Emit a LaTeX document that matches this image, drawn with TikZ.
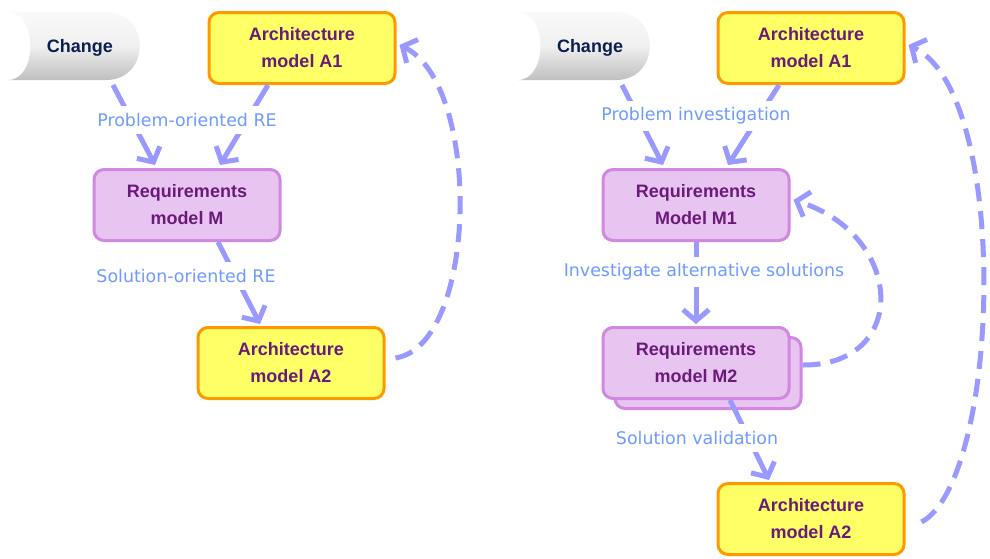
\documentclass[tikz,border=0pt]{standalone}
\usepackage{fontspec}
\setmainfont{Liberation Sans}
\newfontfamily\labelfont{DejaVu Sans}
\usetikzlibrary{arrows.meta,shadings}
\definecolor{archfill}{HTML}{FFFF66}
\definecolor{archline}{HTML}{FF9900}
\definecolor{reqfill}{HTML}{E8C4F0}
\definecolor{reqline}{HTML}{D088E0}
\definecolor{boxtext}{HTML}{6A1B7A}
\definecolor{labeltext}{HTML}{6F9BFF}
\definecolor{flowc}{HTML}{9999FF}
\definecolor{changetext}{HTML}{0B1E50}
\tikzset{
  box/.style={rounded corners=10pt, line width=3pt, minimum width=186pt, minimum height=71pt,
    align=center, text=boxtext, font=\fontsize{18}{27}\selectfont\bfseries, inner sep=0pt},
  archbox/.style={box, fill=archfill, draw=archline},
  reqbox/.style={box, fill=reqfill, draw=reqline},
  steplabel/.style={fill=white, text=labeltext, font=\labelfont\fontsize{17.4}{20}\selectfont,
    inner xsep=2pt, inner ysep=7pt},
  flow/.style={draw=flowc, line width=5pt, -{Straight Barb[length=11pt,width=26pt,line width=5pt]}},
  loopback/.style={flow, dash pattern=on 18pt off 10pt},
  changetag/.style={text=changetext, font=\fontsize{18}{22}\selectfont\bfseries}
}
% grey cylinder lying on its side, open white face on the left
\newcommand{\changeshape}[1]{%
  \shade[top color=white!96!gray, bottom color=gray!50, middle color=gray!12]
    (#1+8,12) -- (#1+106,12) .. controls (#1+151,12) and (#1+151,80) .. (#1+106,80)
    -- (#1+8,80) .. controls (#1+38,80) and (#1+38,12) .. (#1+8,12) -- cycle;
}
\begin{document}
\begin{tikzpicture}[x=1pt,y=-1pt]
\useasboundingbox[fill=white] (0,0) rectangle (990,558);

% ---------- left: simple loop ----------
\changeshape{0}
\node[changetag] (chL) at (80,48) {Change};
\node[archbox] (a1L) at (302,48) {Architecture\\model A1};
\node[reqbox] (mL) at (187,205) {Requirements\\model M};
\node[archbox] (a2L) at (291,363) {Architecture\\model A2};

\draw[flow] ([xshift=33pt,yshift=-37pt]chL.center) -- ([xshift=-32pt,yshift=3pt]mL.north);
\draw[flow] ([xshift=-34pt]a1L.south) -- ([xshift=33pt,yshift=3pt]mL.north);
\draw[flow] ([xshift=31pt]mL.south) -- ([xshift=-31pt,yshift=2pt]a2L.north);
\draw[loopback] ([xshift=10pt,yshift=5pt]a2L.east)
  .. controls (478,345) and (482,85) .. ([xshift=3pt,yshift=3pt]a1L.east);

\node[steplabel] (l1) at (187,120) {Problem-oriented RE};
\node[steplabel] (l2) at (186,276) {Solution-oriented RE};

% ---------- right: loop with alternative solutions ----------
\changeshape{510}
\node[changetag] (chR) at (590,48) {Change};
\node[archbox] (a1R) at (811,48) {Architecture\\model A1};
\node[reqbox] (m1R) at (696,205) {Requirements\\Model M1};
\node[reqbox] (m2back) at (708,373) {};
\node[reqbox] (m2R) at (696,363) {Requirements\\model M2};
\node[archbox] (a2R) at (811,519) {Architecture\\model A2};

\draw[flow] ([xshift=32pt,yshift=-37pt]chR.center) -- ([xshift=-33pt,yshift=3pt]m1R.north);
\draw[flow] ([xshift=-32pt]a1R.south) -- ([xshift=32pt,yshift=3pt]m1R.north);
\draw[flow] (m1R.south) -- ([yshift=2pt]m2R.north);
\draw[flow] ([xshift=34pt]m2R.south) -- ([xshift=-42pt,yshift=2pt]a2R.north);
\draw[loopback] ([xshift=0pt,yshift=8pt]m2back.east)
  .. controls (910,366) and (905,235) .. ([xshift=3pt,yshift=5pt]m1R.east);
\draw[loopback] ([xshift=16pt,yshift=-3pt]a2R.east)
  .. controls (1000,480) and (1012,95) .. ([xshift=3pt,yshift=3pt]a1R.east);

\node[steplabel] (l3) at (696,116) {Problem investigation};
\node[steplabel] (l4) at (704,272) {Investigate alternative solutions};
\node[steplabel] (l5) at (697,438) {Solution validation};
\end{tikzpicture}
\end{document}
